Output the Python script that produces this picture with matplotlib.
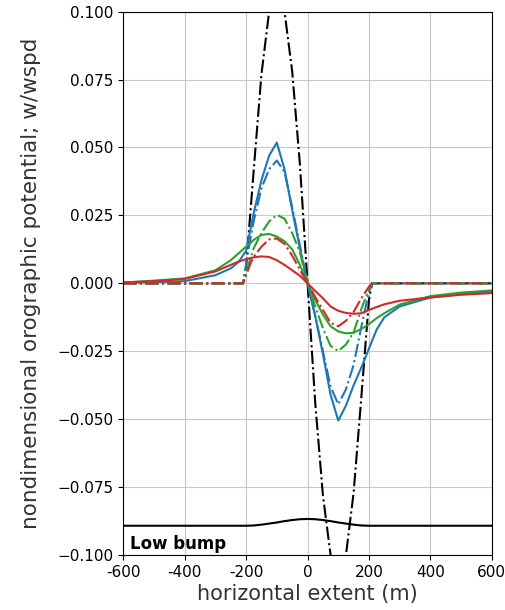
import matplotlib
matplotlib.use('Agg')
import matplotlib.pyplot as plt

# values
x_black = [-600, -210, -200, -175, -150, -125, -100, -75, -50, -25, 0,
           25, 50, 75, 100, 125, 150, 175, 200, 210, 600]
w_black = [0, 0, 0.006, 0.042, 0.077, 0.100, 0.110, 0.100, 0.078, 0.044, 0,
           -0.044, -0.078, -0.100, -0.110, -0.100, -0.077, -0.042, -0.006, 0, 0]

x_solid = [-600, -500, -400, -300, -250, -225, -200, -175, -150, -125, -100, -75, -50, -25, 0,
           25, 50, 75, 100, 125, 150, 175, 200, 225, 250, 300, 400, 500, 600]
w_blue = [0.0002, 0.0004, 0.0008, 0.003, 0.0055, 0.0078, 0.012, 0.026, 0.038, 0.047, 0.0518, 0.042, 0.027, 0.013, 0,
          -0.012, -0.026, -0.041, -0.0505, -0.045, -0.0375, -0.031, -0.024, -0.017, -0.0125, -0.0085, -0.0052, -0.004, -0.003]
w_green = [0.0003, 0.001, 0.0018, 0.0048, 0.0085, 0.011, 0.0135, 0.016, 0.0178, 0.0182, 0.0172, 0.0155, 0.0125, 0.0068, 0,
           -0.006, -0.0115, -0.0158, -0.0177, -0.0184, -0.0182, -0.0168, -0.015, -0.0128, -0.011, -0.0078, -0.0047, -0.0034, -0.0026]
w_red = [0.0003, 0.0008, 0.0016, 0.0044, 0.0068, 0.008, 0.0089, 0.0096, 0.0099, 0.0097, 0.0085, 0.0068, 0.0048, 0.0028, 0,
         -0.0028, -0.0055, -0.0085, -0.0101, -0.0109, -0.0112, -0.011, -0.0098, -0.0087, -0.0077, -0.0064, -0.0052, -0.0042, -0.0036]

x_dash = [-600, -210, -200, -185, -175, -150, -125, -100, -75, -50, -25, 0,
          25, 50, 75, 100, 125, 150, 175, 200, 210, 600]
w_blue_d = [0, 0, 0.007, 0.017, 0.023, 0.035, 0.042, 0.0452, 0.041, 0.028, 0.014, 0,
            -0.012, -0.025, -0.038, -0.0445, -0.039, -0.030, -0.016, -0.003, 0, 0]
w_green_d = [0, 0, 0.004, 0.0095, 0.013, 0.0185, 0.0228, 0.0252, 0.0238, 0.0185, 0.0115, 0,
             -0.0085, -0.0165, -0.023, -0.0249, -0.0225, -0.018, -0.0095, -0.002, 0, 0]
w_red_d = [0, 0, 0.003, 0.0075, 0.0098, 0.0135, 0.0162, 0.0165, 0.0145, 0.0102, 0.005, 0,
           -0.005, -0.0098, -0.0145, -0.0158, -0.0138, -0.0105, -0.0055, -0.0012, 0, 0]

x_terrain = [-600, -200, -175, -150, -125, -100, -75, -50, -25, 0,
             25, 50, 75, 100, 125, 150, 175, 200, 600]
z_terrain = [-0.0892, -0.0892, -0.0891, -0.0888, -0.0884, -0.0880, -0.0875, -0.0871, -0.0868, -0.0867,
             -0.0868, -0.0871, -0.0875, -0.0880, -0.0884, -0.0888, -0.0891, -0.0892, -0.0892]

xticks = [-600, -400, -200, 0, 200, 400, 600]
xticklabels = ['-600', '-400', '-200', '0', '200', '400', '600']

fig, ax = plt.subplots(figsize=(5.05, 6.10), dpi=100)
plt.subplots_adjust(left=0.244, right=0.974, top=0.981, bottom=0.090)

ax.plot(x_black, w_black, 'k-.', lw=1.5)
ax.plot(x_solid, w_blue, color='tab:blue', lw=1.5)
ax.plot(x_dash, w_blue_d, '-.', color='tab:blue', lw=1.5)
ax.plot(x_solid, w_green, color='tab:green', lw=1.5)
ax.plot(x_dash, w_green_d, '-.', color='tab:green', lw=1.5)
ax.plot(x_solid, w_red, color='tab:red', lw=1.5)
ax.plot(x_dash, w_red_d, '-.', color='tab:red', lw=1.5)

# terrain outline
ax.plot(x_terrain, z_terrain, 'k-', lw=1.5)
ax.text(-578, -0.0958, 'Low bump', fontsize=12, fontweight='bold', va='center')

ax.set_xlim(-600, 600)
ax.set_ylim(-0.1, 0.1)
ax.set_xticks(xticks)
ax.set_xticklabels(xticklabels)
ax.set_yticks([-0.1, -0.075, -0.05, -0.025, 0, 0.025, 0.05, 0.075, 0.1])
ax.tick_params(labelsize=11)
ax.grid(True, color='#c8c8c8')
ax.set_xlabel('horizontal extent (m)', fontsize=15, color='#333333', labelpad=3)
ax.set_ylabel('nondimensional orographic potential; w/wspd', fontsize=15.5, color='#333333', labelpad=12)

plt.savefig('out.png', dpi=100)
